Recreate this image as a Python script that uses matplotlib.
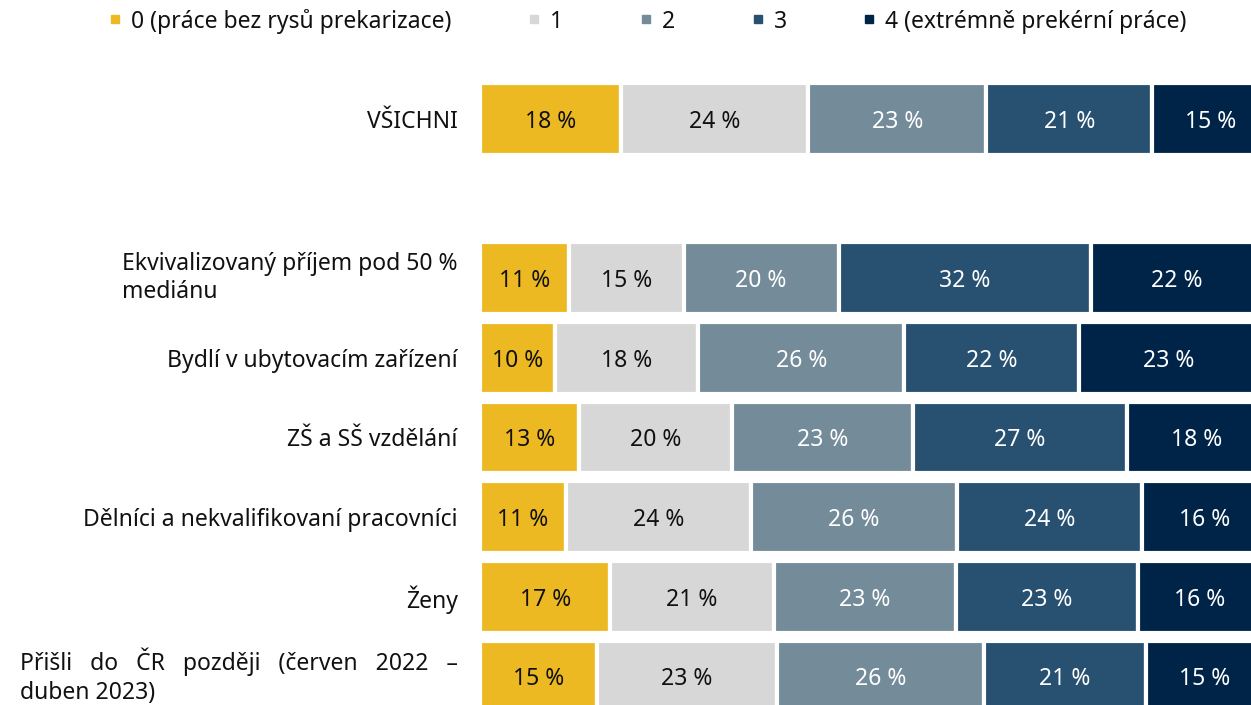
import matplotlib.pyplot as plt
from matplotlib.lines import Line2D

plt.rcParams['font.family'] = ['Noto Sans', 'DejaVu Sans']

# categories (top to bottom), empty string = spacer row
categories = [
    "VŠICHNI",
    "",
    "Ekvivalizovaný příjem pod 50 %\nmediánu",
    "Bydlí v ubytovacím zařízení",
    "ZŠ a SŠ vzdělání",
    "Dělníci a nekvalifikovaní pracovníci",
    "Ženy",
    "Přišli   do   ČR   později   (červen   2022   –\nduben 2023)",
]

series_names = ["0 (práce bez rysů prekarizace)", "1", "2", "3",
                "4 (extrémně prekérní práce)"]

# shares in %, per category (spacer row = 0)
level0 = [18.1, 0, 11.4, 9.6, 12.7, 11.0, 16.7, 15.0]
level1 = [24.0, 0, 14.7, 18.4, 19.6, 23.8, 21.0, 23.1]
level2 = [22.8, 0, 19.9, 26.4, 23.2, 26.3, 23.3, 26.5]
level3 = [21.3, 0, 32.3, 22.4, 27.4, 23.8, 23.3, 20.8]
level4 = [15.0, 0, 22.0, 23.0, 18.0, 16.0, 16.0, 15.0]

colors = ["#EDB922", "#D7D7D7", "#748B9A", "#285171", "#002448"]
text_colors = ["#111111", "#111111", "white", "white", "white"]

fig = plt.figure(figsize=(12.51, 7.05), dpi=100)
ax = fig.add_axes([480 / 1251, 0, 771 / 1251, (705 - 79.2) / 705])

ypos = list(range(len(categories)))
left = [0] * len(categories)
for vals, col, tcol in zip([level0, level1, level2, level3, level4], colors, text_colors):
    bars = ax.barh(ypos, vals, left=left, height=0.9, color=col,
                   edgecolor="white", linewidth=3)
    for b, v in zip(bars, vals):
        if v > 0:
            ax.text(b.get_x() + b.get_width() / 2, b.get_y() + b.get_height() / 2,
                    f"{round(v)} %", ha="center", va="center_baseline",
                    color=tcol, fontsize=16.5)
    left = [a + b for a, b in zip(left, vals)]

ax.set_xlim(0, 98.85)
ax.set_ylim(7.36, -0.5)
ax.set_xticks([])
ax.set_yticks([])
for s in ax.spines.values():
    s.set_visible(False)

# category labels left of the bars
for y, name in zip(ypos, categories):
    ax.annotate(name, xy=(0, y), xycoords=("axes fraction", "data"),
                xytext=(-16, 0), textcoords="offset points",
                ha="right", va="center_baseline" if "\n" not in name else "center",
                multialignment="left", linespacing=1.25,
                fontsize=16.5, color="#111111")

handles = [Line2D([], [], marker="s", linestyle="none", markersize=6,
                  markerfacecolor=c, markeredgecolor=c) for c in colors]
fig.legend(handles, series_names, loc="center", ncol=5,
           bbox_to_anchor=(647 / 1251, 1 - 21 / 705), frameon=False,
           fontsize=16.5, handletextpad=0.35, columnspacing=3.25,
           handlelength=0.7, labelcolor="#111111")

fig.savefig("out.png", dpi=100)
